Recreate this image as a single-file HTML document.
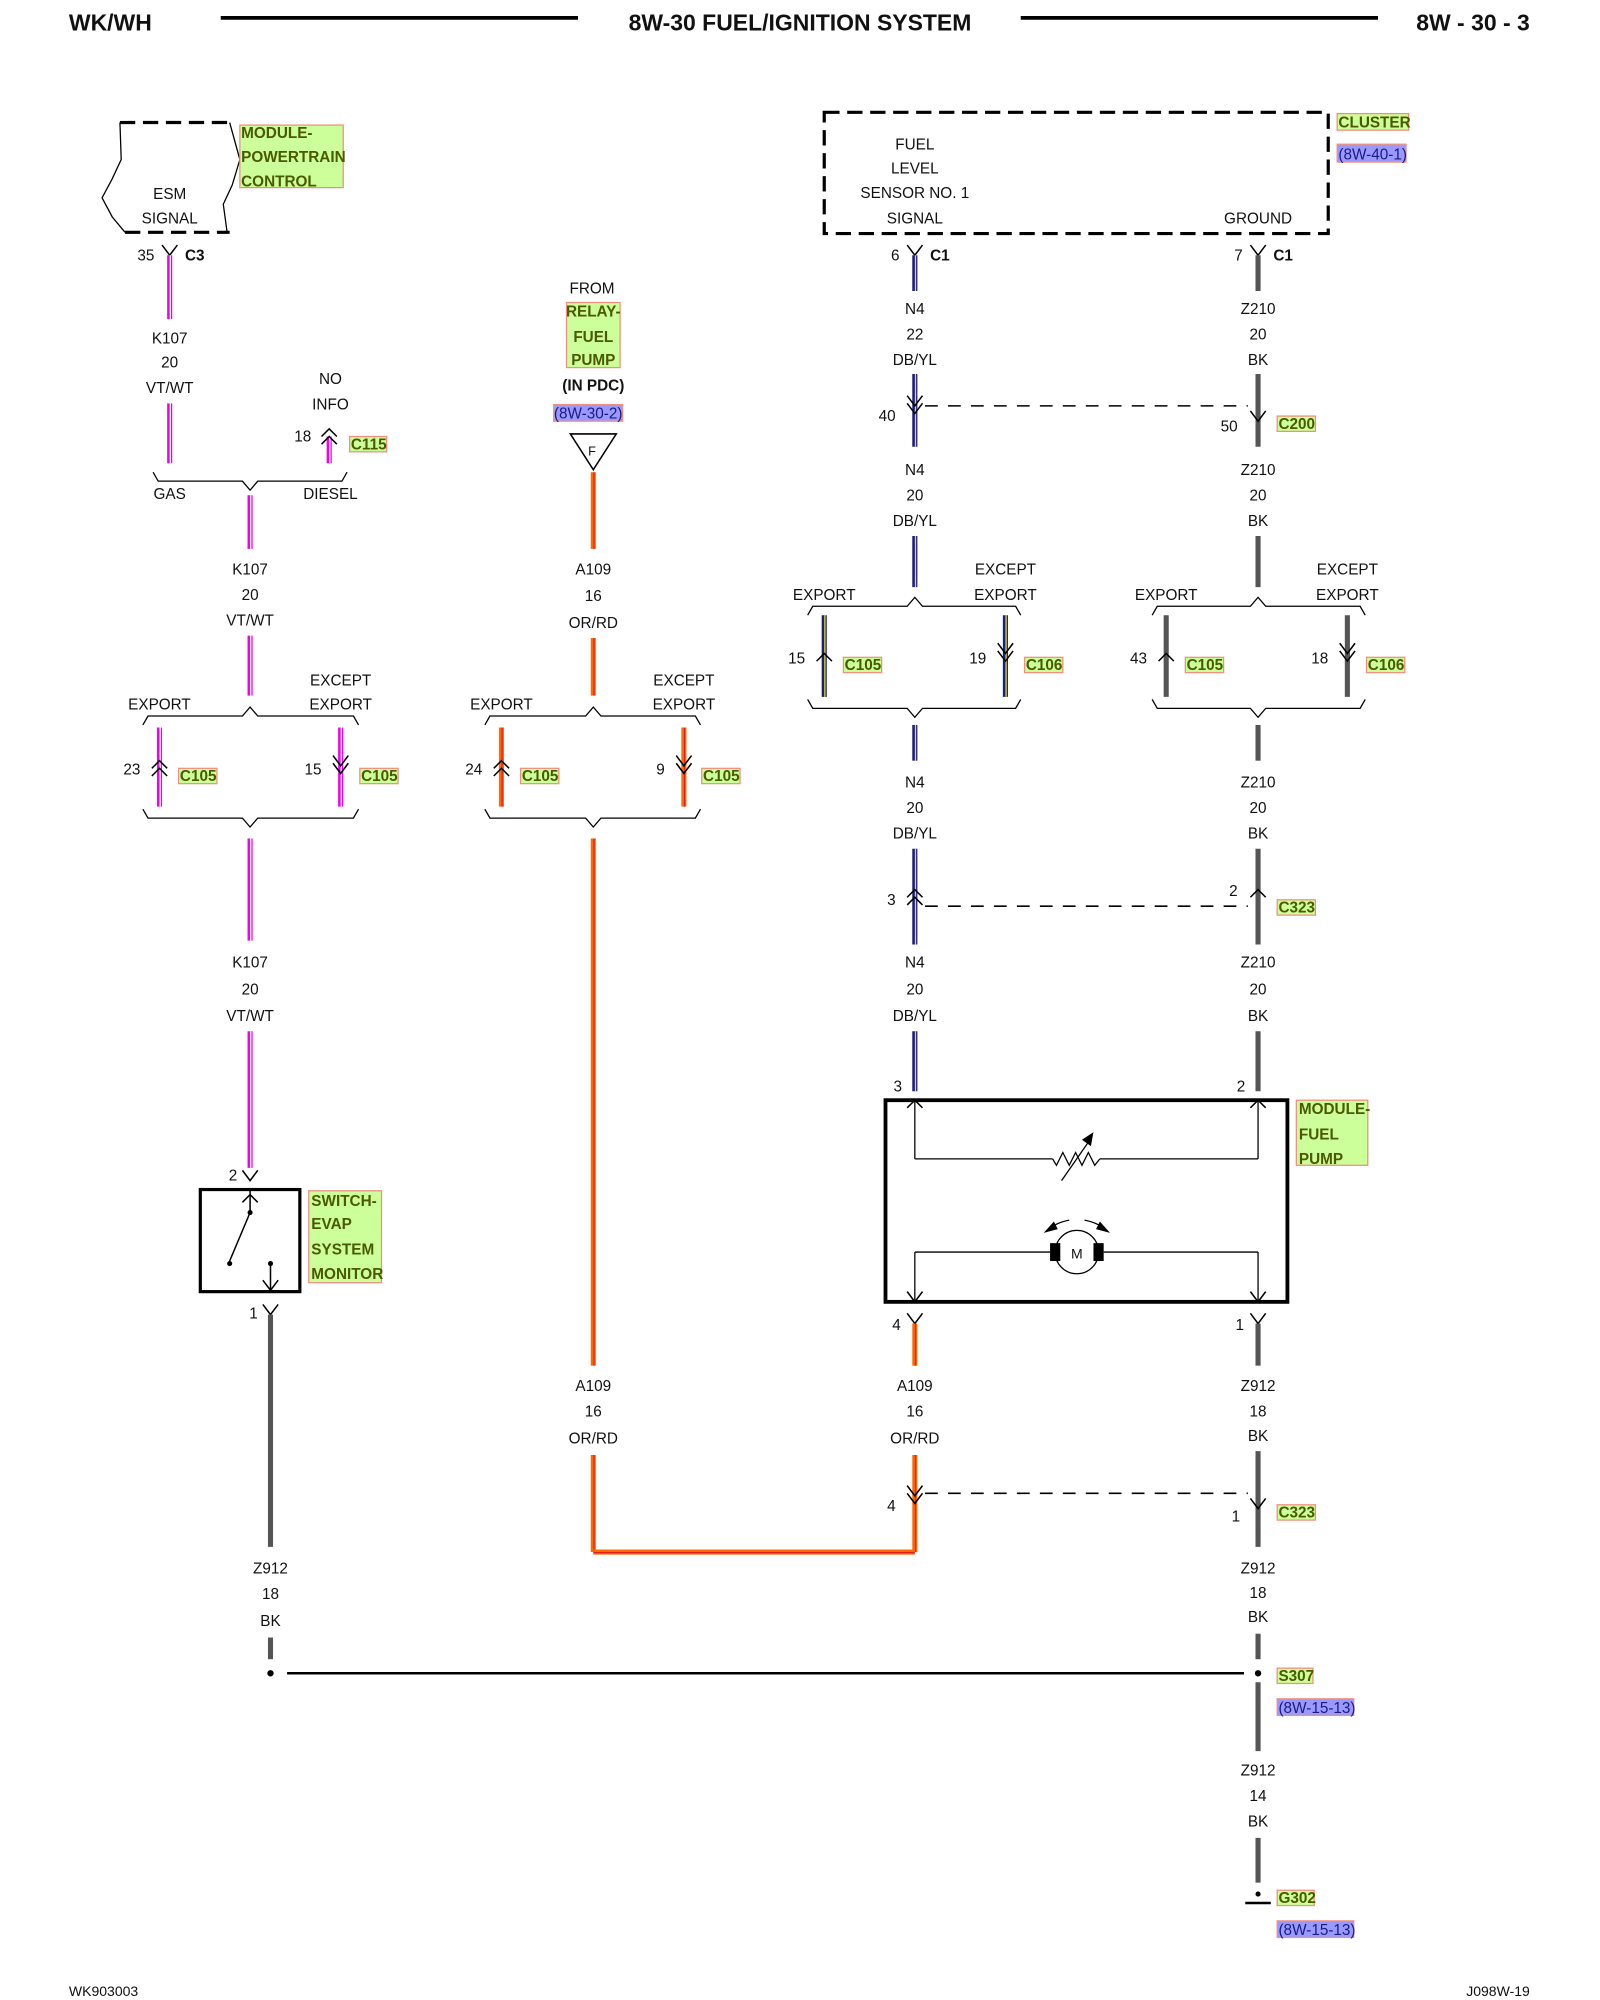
<!DOCTYPE html>
<html><head><meta charset="utf-8"><style>
html,body{margin:0;padding:0;background:#fff;width:1600px;height:2000px;overflow:hidden}
svg{display:block}
text{font-family:"Liberation Sans",sans-serif;font-size:12px;fill:#111}
.b{font-weight:bold}
.g{font-weight:bold;fill:#4a5a00}
.bl{fill:#1a1a80}
</style></head><body>
<svg id="s" width="1600" height="2000" viewBox="0 0 1254 1567" preserveAspectRatio="none" xmlns="http://www.w3.org/2000/svg">
<g id="shapes"></g>
<text x="54" y="24" class="b" style="font-size:18px">WK/WH</text>
<text x="627" y="24" class="b" text-anchor="middle" style="font-size:18px">8W-30 FUEL/IGNITION SYSTEM</text>
<text x="1199" y="24" class="b" text-anchor="end" style="font-size:18px">8W - 30 - 3</text>
<text x="54" y="1564" style="font-size:11px">WK903003</text>
<text x="1199" y="1564" text-anchor="end" style="font-size:11px">J098W-19</text>
<rect x="188" y="98" width="81" height="49" fill="#ccff99" stroke="#f09080"/>
<text x="189" y="108" class="g">MODULE-</text><text x="189" y="127" class="g">POWERTRAIN</text><text x="189" y="146" class="g">CONTROL</text>
<text x="133" y="156" text-anchor="middle">ESM</text><text x="133" y="175" text-anchor="middle">SIGNAL</text>
<text x="121" y="204" text-anchor="end">35</text><text x="145" y="204" class="b">C3</text>
<text x="133" y="269" text-anchor="middle">K107</text><text x="133" y="288" text-anchor="middle">20</text><text x="133" y="308" text-anchor="middle">VT/WT</text>
<text x="259" y="301" text-anchor="middle">NO</text><text x="259" y="321" text-anchor="middle">INFO</text>
<text x="244" y="346" text-anchor="end">18</text>
<rect x="274" y="342" width="29" height="12" fill="#ccff99" stroke="#f09080"/><text x="275" y="352" class="g">C115</text>
<text x="133" y="391" text-anchor="middle">GAS</text><text x="259" y="391" text-anchor="middle">DIESEL</text>
<text x="196" y="450" text-anchor="middle">K107</text><text x="196" y="470" text-anchor="middle">20</text><text x="196" y="490" text-anchor="middle">VT/WT</text>
<text x="125" y="556" text-anchor="middle">EXPORT</text><text x="267" y="537" text-anchor="middle">EXCEPT</text><text x="267" y="556" text-anchor="middle">EXPORT</text>
<text x="110" y="607" text-anchor="end">23</text><text x="252" y="607" text-anchor="end">15</text>
<text x="196" y="758" text-anchor="middle">K107</text><text x="196" y="779" text-anchor="middle">20</text><text x="196" y="800" text-anchor="middle">VT/WT</text>
<text x="186" y="925" text-anchor="end">2</text><text x="202" y="1033" text-anchor="end">1</text>
<rect x="242" y="933" width="57" height="72" fill="#ccff99" stroke="#f09080"/>
<text x="244" y="945" class="g">SWITCH-</text><text x="244" y="963" class="g">EVAP</text><text x="244" y="983" class="g">SYSTEM</text><text x="244" y="1002" class="g">MONITOR</text>
<text x="212" y="1233" text-anchor="middle">Z912</text><text x="212" y="1253" text-anchor="middle">18</text><text x="212" y="1274" text-anchor="middle">BK</text>
<text x="464" y="230" text-anchor="middle">FROM</text>
<rect x="444" y="237" width="42" height="51" fill="#ccff99" stroke="#f09080"/>
<text x="465" y="248" class="g" text-anchor="middle">RELAY-</text><text x="465" y="268" class="g" text-anchor="middle">FUEL</text><text x="465" y="286" class="g" text-anchor="middle">PUMP</text>
<text x="465" y="306" class="b" text-anchor="middle">(IN PDC)</text>
<rect x="434" y="317" width="54" height="13" fill="#9999ff" stroke="#f09080"/><text x="461" y="328" class="bl" text-anchor="middle">(8W-30-2)</text>
<text x="464" y="357" text-anchor="middle" style="font-size:10px">F</text>
<text x="465" y="450" text-anchor="middle">A109</text><text x="465" y="471" text-anchor="middle">16</text><text x="465" y="492" text-anchor="middle">OR/RD</text>
<text x="393" y="556" text-anchor="middle">EXPORT</text><text x="536" y="537" text-anchor="middle">EXCEPT</text><text x="536" y="556" text-anchor="middle">EXPORT</text>
<text x="378" y="607" text-anchor="end">24</text><text x="521" y="607" text-anchor="end">9</text>
<text x="465" y="1090" text-anchor="middle">A109</text><text x="465" y="1110" text-anchor="middle">16</text><text x="465" y="1131" text-anchor="middle">OR/RD</text>
<text x="717" y="117" text-anchor="middle">FUEL</text><text x="717" y="136" text-anchor="middle">LEVEL</text><text x="717" y="155" text-anchor="middle">SENSOR NO. 1</text><text x="717" y="175" text-anchor="middle">SIGNAL</text>
<text x="986" y="175" text-anchor="middle">GROUND</text>
<rect x="1048" y="89" width="56" height="13" fill="#ccff99" stroke="#f09080"/><text x="1049" y="100" class="g">CLUSTER</text>
<rect x="1048" y="113" width="54" height="14" fill="#9999ff" stroke="#f09080"/><text x="1049" y="125" class="bl">(8W-40-1)</text>
<text x="705" y="204" text-anchor="end">6</text><text x="729" y="204" class="b">C1</text>
<text x="974" y="204" text-anchor="end">7</text><text x="998" y="204" class="b">C1</text>
<text x="717" y="246" text-anchor="middle">N4</text><text x="717" y="266" text-anchor="middle">22</text><text x="717" y="286" text-anchor="middle">DB/YL</text>
<text x="986" y="246" text-anchor="middle">Z210</text><text x="986" y="266" text-anchor="middle">20</text><text x="986" y="286" text-anchor="middle">BK</text>
<text x="702" y="330" text-anchor="end">40</text><text x="970" y="338" text-anchor="end">50</text>
<rect x="1001" y="326" width="30" height="12" fill="#ccff99" stroke="#f09080"/><text x="1002" y="336" class="g">C200</text>
<text x="717" y="372" text-anchor="middle">N4</text><text x="717" y="392" text-anchor="middle">20</text><text x="717" y="412" text-anchor="middle">DB/YL</text>
<text x="986" y="372" text-anchor="middle">Z210</text><text x="986" y="392" text-anchor="middle">20</text><text x="986" y="412" text-anchor="middle">BK</text>
<text x="646" y="470" text-anchor="middle">EXPORT</text><text x="788" y="450" text-anchor="middle">EXCEPT</text><text x="788" y="470" text-anchor="middle">EXPORT</text>
<text x="914" y="470" text-anchor="middle">EXPORT</text><text x="1056" y="450" text-anchor="middle">EXCEPT</text><text x="1056" y="470" text-anchor="middle">EXPORT</text>
<text x="631" y="520" text-anchor="end">15</text><text x="773" y="520" text-anchor="end">19</text>
<text x="899" y="520" text-anchor="end">43</text><text x="1041" y="520" text-anchor="end">18</text>
<text x="717" y="617" text-anchor="middle">N4</text><text x="717" y="637" text-anchor="middle">20</text><text x="717" y="657" text-anchor="middle">DB/YL</text>
<text x="986" y="617" text-anchor="middle">Z210</text><text x="986" y="637" text-anchor="middle">20</text><text x="986" y="657" text-anchor="middle">BK</text>
<text x="702" y="709" text-anchor="end">3</text><text x="970" y="702" text-anchor="end">2</text>
<rect x="1001" y="705" width="30" height="12" fill="#ccff99" stroke="#f09080"/><text x="1002" y="715" class="g">C323</text>
<text x="717" y="758" text-anchor="middle">N4</text><text x="717" y="779" text-anchor="middle">20</text><text x="717" y="800" text-anchor="middle">DB/YL</text>
<text x="986" y="758" text-anchor="middle">Z210</text><text x="986" y="779" text-anchor="middle">20</text><text x="986" y="800" text-anchor="middle">BK</text>
<text x="707" y="855" text-anchor="end">3</text><text x="976" y="855" text-anchor="end">2</text>
<rect x="1016" y="862" width="56" height="51" fill="#ccff99" stroke="#f09080"/>
<text x="1018" y="873" class="g">MODULE-</text><text x="1018" y="893" class="g">FUEL</text><text x="1018" y="912" class="g">PUMP</text>
<text x="844" y="986" text-anchor="middle" style="font-size:11px">M</text>
<text x="706" y="1042" text-anchor="end">4</text><text x="975" y="1042" text-anchor="end">1</text>
<text x="717" y="1090" text-anchor="middle">A109</text><text x="717" y="1110" text-anchor="middle">16</text><text x="717" y="1131" text-anchor="middle">OR/RD</text>
<text x="986" y="1090" text-anchor="middle">Z912</text><text x="986" y="1110" text-anchor="middle">18</text><text x="986" y="1129" text-anchor="middle">BK</text>
<text x="702" y="1184" text-anchor="end">4</text><text x="972" y="1192" text-anchor="end">1</text>
<rect x="1001" y="1179" width="30" height="12" fill="#ccff99" stroke="#f09080"/><text x="1002" y="1189" class="g">C323</text>
<text x="986" y="1233" text-anchor="middle">Z912</text><text x="986" y="1252" text-anchor="middle">18</text><text x="986" y="1271" text-anchor="middle">BK</text>
<rect x="1001" y="1307" width="28" height="12" fill="#ccff99" stroke="#f09080"/><text x="1002" y="1317" class="g">S307</text>
<rect x="1001" y="1331" width="60" height="13" fill="#9999ff" stroke="#f09080"/><text x="1002" y="1342" class="bl">(8W-15-13)</text>
<text x="986" y="1391" text-anchor="middle">Z912</text><text x="986" y="1411" text-anchor="middle">14</text><text x="986" y="1431" text-anchor="middle">BK</text>
<rect x="1001" y="1481" width="29" height="12" fill="#ccff99" stroke="#f09080"/><text x="1002" y="1491" class="g">G302</text>
<rect x="1001" y="1505" width="60" height="13" fill="#9999ff" stroke="#f09080"/><text x="1002" y="1516" class="bl">(8W-15-13)</text>
<rect x="140" y="602" width="30" height="12" fill="#ccff99" stroke="#f09080"/><text x="141" y="612" class="g">C105</text>
<rect x="282" y="602" width="30" height="12" fill="#ccff99" stroke="#f09080"/><text x="283" y="612" class="g">C105</text>
<rect x="408" y="602" width="30" height="12" fill="#ccff99" stroke="#f09080"/><text x="409" y="612" class="g">C105</text>
<rect x="550" y="602" width="30" height="12" fill="#ccff99" stroke="#f09080"/><text x="551" y="612" class="g">C105</text>
<rect x="661" y="515" width="30" height="12" fill="#ccff99" stroke="#f09080"/><text x="662" y="525" class="g">C105</text>
<rect x="803" y="515" width="30" height="12" fill="#ccff99" stroke="#f09080"/><text x="804" y="525" class="g">C106</text>
<rect x="929" y="515" width="30" height="12" fill="#ccff99" stroke="#f09080"/><text x="930" y="525" class="g">C105</text>
<rect x="1071" y="515" width="30" height="12" fill="#ccff99" stroke="#f09080"/><text x="1072" y="525" class="g">C106</text>
</svg>
<script>
var NS="http://www.w3.org/2000/svg",G=document.getElementById("shapes");
function el(t,a){var e=document.createElementNS(NS,t);for(var k in a)e.setAttribute(k,a[k]);G.appendChild(e);return e}
function ln(x1,y1,x2,y2,c,w,d){var a={x1:x1,y1:y1,x2:x2,y2:y2,stroke:c||"#000","stroke-width":w||1.5};if(d)a["stroke-dasharray"]=d;el("line",a)}
var T={K:["#f000f0","#ffffff"],N:["#1a1a8a","#e8e800"],Z:["#555","#555"],A:["#ff6a00","#e02020"]};
function w(x,y1,y2,t){ln(x,y1,x,y2,T[t][0],4);if(T[t][1]!==T[t][0])ln(x+0.5,y1,x+0.5,y2,T[t][1],1)}
function fork(x,y){el("polyline",{points:(x-6)+","+(y-8)+" "+x+","+y+" "+(x+6)+","+(y-8),fill:"none",stroke:"#000","stroke-width":1.2})}
function up(x,y){el("polyline",{points:(x-6)+","+(y+6)+" "+x+","+y+" "+(x+6)+","+(y+6),fill:"none",stroke:"#000","stroke-width":1.2})}
function down2(x,y){fork(x,y);fork(x,y+6)}
function up2(x,y){up(x,y);up(x,y+6)}
function brk(x1,x2,m,y,dir){var d=dir*7;el("polyline",{points:x1+","+y+" "+(x1+4)+","+(y+d)+" "+(m-6)+","+(y+d)+" "+m+","+(y+2*d)+" "+(m+6)+","+(y+d)+" "+(x2-4)+","+(y+d)+" "+x2+","+y,fill:"none",stroke:"#000","stroke-width":1})}
ln(173,14,453,14,"#000",3);ln(800,14,1080,14,"#000",3);
el("polyline",{points:"94,96 180,96",stroke:"#000","stroke-width":2.5,"stroke-dasharray":"12,6",fill:"none"});
el("polyline",{points:"98,182 180,182",stroke:"#000","stroke-width":2.5,"stroke-dasharray":"12,6",fill:"none"});
el("polyline",{points:"94,96 95,125 88,140 80,155 88,170 98,182",fill:"none",stroke:"#000","stroke-width":1});
el("polyline",{points:"180,96 188,125 182,145 175,160 178,182",fill:"none",stroke:"#000","stroke-width":1});
el("rect",{x:646,y:88,width:395,height:95,fill:"none",stroke:"#000","stroke-width":2.5,"stroke-dasharray":"12,6"});
fork(133,200);w(133,200,250,"K");w(133,316,363,"K");w(258,342,363,"K");up(258,336);up(258,342);
brk(120,272,196,370,1);w(196,388,430,"K");w(196,498,545,"K");brk(112,281,196,568,-1);
w(125,570,632,"K");w(267,570,632,"K");up2(125,596);down2(267,600);
brk(112,281,196,634,1);w(196,657,737,"K");w(196,808,915,"K");fork(196,925);
el("rect",{x:157,y:932,width:78,height:80,fill:"none",stroke:"#000","stroke-width":2.5});
ln(196,932,196,950,"#000",1.2);up(196,936);ln(196,950,180,988,"#000",1.2);el("circle",{cx:196,cy:950,r:2});el("circle",{cx:180,cy:990,r:2});
ln(212,990,212,1012,"#000",1.2);fork(212,1011);el("circle",{cx:212,cy:990,r:2});
fork(212,1030);w(212,1030,1212,"Z");w(212,1283,1300,"Z");el("circle",{cx:212,cy:1311,r:2.5});ln(225,1311,975,1311,"#000",2);el("circle",{cx:986,cy:1311,r:2.5});
el("polygon",{points:"447,340 483,340 465,368",fill:"none",stroke:"#000","stroke-width":1.2});
w(465,370,430,"A");w(465,500,545,"A");brk(380,549,465,568,-1);w(393,570,632,"A");w(536,570,632,"A");up2(393,596);down2(536,600);brk(380,549,465,634,1);
w(465,657,1070,"A");w(465,1140,1216,"A");ln(465,1216,717,1216,"#ff6a00",4);ln(465,1216.5,717,1216.5,"#e02020",1);w(717,1140,1216,"A");down2(717,1172);
fork(717,200);fork(986,200);w(717,200,228,"N");w(986,200,228,"Z");
w(717,293,350,"N");w(986,293,350,"Z");down2(717,318);fork(986,330);ln(725,318,978,318,"#000",1.2,"10,8");
w(717,420,460,"N");w(986,420,460,"Z");brk(633,800,717,482,-1);brk(903,1070,986,482,-1);
w(646,482,546,"N");w(788,482,546,"N");w(914,482,546,"Z");w(1056,482,546,"Z");
up(646,512);up(914,512);down2(788,512);down2(1056,512);
brk(633,800,717,548,1);brk(903,1070,986,548,1);
w(717,568,596,"N");w(986,568,596,"Z");w(717,665,740,"N");w(986,665,740,"Z");up2(717,697);up(986,697);ln(725,710,978,710,"#000",1.2,"10,8");
w(717,808,855,"N");w(986,808,855,"Z");
el("rect",{x:694,y:862,width:315,height:158,fill:"none",stroke:"#000","stroke-width":3});
up(717,862);up(986,862);ln(717,862,717,908,"#000",1);ln(986,862,986,908,"#000",1);
ln(717,908,825,908,"#000",1);ln(862,908,986,908,"#000",1);
el("polyline",{points:"825,908 828,913 833,903 838,913 843,903 848,913 853,903 858,913 862,908",fill:"none",stroke:"#000","stroke-width":1});
ln(832,925,855,892,"#000",1);el("polygon",{points:"857,887 848,893 855,898",fill:"#000"});
el("circle",{cx:844,cy:981,r:17,fill:"#fff",stroke:"#000","stroke-width":1});
el("rect",{x:823,y:974,width:8,height:14,fill:"#000"});el("rect",{x:857,y:974,width:8,height:14,fill:"#000"});
ln(717,981,823,981,"#000",1);ln(865,981,986,981,"#000",1);ln(717,981,717,1020,"#000",1);ln(986,981,986,1020,"#000",1);
fork(717,1020);fork(986,1020);
el("path",{d:"M838,956 Q828,958 824,962",fill:"none",stroke:"#000"});el("polygon",{points:"818,966 826,957 829,963",fill:"#000"});
el("path",{d:"M850,956 Q860,958 864,962",fill:"none",stroke:"#000"});el("polygon",{points:"870,966 862,957 859,963",fill:"#000"});
fork(717,1037);fork(986,1037);w(717,1037,1070,"A");w(986,1037,1070,"Z");
w(986,1137,1212,"Z");fork(986,1182);ln(725,1170,978,1170,"#000",1.2,"10,8");
w(986,1280,1300,"Z");w(986,1318,1372,"Z");w(986,1440,1475,"Z");
el("circle",{cx:986,cy:1484,r:2});ln(976,1491,996,1491,"#000",2);
</script>
</body></html>
